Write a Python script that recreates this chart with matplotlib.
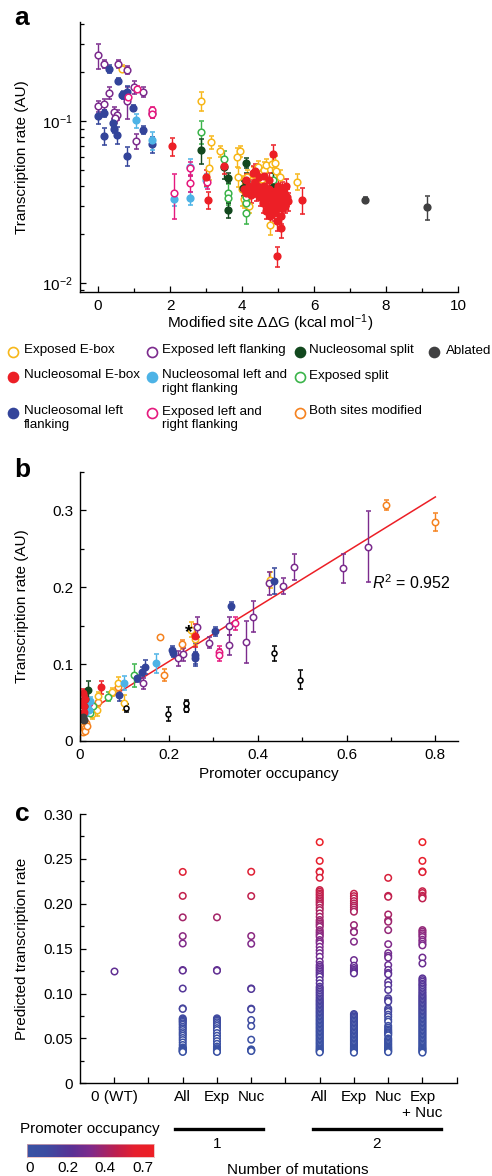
import matplotlib
matplotlib.use("Agg")
import numpy as np
import matplotlib.pyplot as plt
import matplotlib.transforms as mtransforms
from matplotlib.colors import LinearSegmentedColormap, Normalize
from matplotlib.ticker import MultipleLocator, FixedLocator, NullFormatter, LogLocator

plt.rcParams["font.family"] = ["Liberation Sans", "DejaVu Sans"]
plt.rcParams["mathtext.fontset"] = "custom"
plt.rcParams["mathtext.rm"] = "Liberation Sans"
plt.rcParams["mathtext.it"] = "Liberation Sans:italic"
plt.rcParams["mathtext.default"] = "regular"

# ---------------- categories ----------------
cat_names = ["Exposed E-box", "Nucleosomal E-box", "Nucleosomal left\nflanking",
             "Exposed left flanking", "Nucleosomal left and\nright flanking",
             "Exposed left and\nright flanking", "Nucleosomal split", "Exposed split",
             "Both sites modified", "Ablated"]
cat_colors = ["#f7b719", "#ec1f26", "#33449a", "#7b2b8d", "#4db3e6",
              "#e5197e", "#12481e", "#3bb44a", "#f5821f", "#404041"]
cat_open = [True, False, False, True, False, True, False, True, True, False]

# ---------------- panel a: (dG, rate, err) ----------------
exp_ebox_a = [(0.66, 0.211, 0.010), (2.86, 0.133, 0.018), (3.14, 0.0745, 0.007), (3.08, 0.051, 0.008),
              (3.39, 0.065, 0.005), (3.85, 0.060, 0.008), (3.94, 0.065, 0.005), (3.90, 0.0454, 0.006),
              (4.45, 0.052, 0.005), (4.60, 0.050, 0.006), (4.68, 0.0535, 0.005), (4.82, 0.054, 0.006),
              (4.92, 0.055, 0.006), (4.30, 0.047, 0.005), (4.15, 0.045, 0.005), (4.00, 0.038, 0.008),
              (4.05, 0.033, 0.004), (4.78, 0.0229, 0.003), (5.52, 0.0423, 0.005), (4.55, 0.044, 0.005),
              (5.05, 0.045, 0.005), (4.20, 0.030, 0.003), (4.95, 0.049, 0.005), (4.40, 0.043, 0.005)]
nuc_ebox_a = [(2.05, 0.070, 0.009), (3.00, 0.045, 0.005), (3.06, 0.0326, 0.004), (3.50, 0.053, 0.006),
              (4.36, 0.049, 0.005), (4.87, 0.0626, 0.009), (4.96, 0.0146, 0.002), (5.66, 0.0326, 0.006),
              (4.05, 0.038, 0.004), (4.12, 0.036, 0.004), (4.20, 0.040, 0.005), (4.25, 0.035, 0.004),
              (4.30, 0.038, 0.004), (4.35, 0.042, 0.005), (4.40, 0.036, 0.004), (4.45, 0.039, 0.004),
              (4.50, 0.034, 0.004), (4.55, 0.037, 0.004), (4.58, 0.031, 0.004), (4.62, 0.040, 0.005),
              (4.65, 0.033, 0.004), (4.68, 0.028, 0.003), (4.70, 0.036, 0.004), (4.72, 0.030, 0.003),
              (4.75, 0.038, 0.004), (4.78, 0.026, 0.003), (4.80, 0.033, 0.004), (4.82, 0.029, 0.003),
              (4.85, 0.035, 0.004), (4.88, 0.031, 0.003), (4.90, 0.027, 0.003), (4.92, 0.037, 0.004),
              (4.95, 0.033, 0.004), (4.97, 0.024, 0.003), (5.00, 0.029, 0.003), (5.02, 0.035, 0.004),
              (5.05, 0.031, 0.003), (5.07, 0.026, 0.003), (5.10, 0.038, 0.004), (5.12, 0.029, 0.003),
              (5.15, 0.033, 0.004), (5.18, 0.036, 0.004), (5.20, 0.030, 0.003), (5.22, 0.040, 0.004),
              (5.25, 0.034, 0.004), (5.28, 0.032, 0.004), (4.48, 0.045, 0.005), (4.60, 0.046, 0.005),
              (4.30, 0.048, 0.005), (4.10, 0.043, 0.004), (5.00, 0.040, 0.004), (4.76, 0.043, 0.005),
              (5.08, 0.022, 0.003)]
nuc_left_a = [(0.30, 0.211, 0.012), (0.55, 0.178, 0.006), (0.68, 0.145, 0.006), (0.80, 0.152, 0.012),
              (0.00, 0.108, 0.012), (0.18, 0.112, 0.006), (0.18, 0.081, 0.010), (0.43, 0.097, 0.006),
              (0.45, 0.090, 0.006), (0.54, 0.082, 0.010), (0.80, 0.061, 0.008), (0.98, 0.120, 0.005),
              (1.26, 0.088, 0.005), (1.50, 0.072, 0.008), (0.70, 0.145, 0.008)]
exp_left_a = [(0.00, 0.255, 0.045), (0.18, 0.226, 0.012), (0.56, 0.226, 0.012), (0.80, 0.208, 0.012),
              (0.31, 0.150, 0.012), (0.00, 0.124, 0.010), (0.18, 0.128, 0.010), (0.45, 0.114, 0.008),
              (0.53, 0.109, 0.008), (0.80, 0.133, 0.030), (0.99, 0.162, 0.015), (1.26, 0.152, 0.010),
              (1.06, 0.075, 0.008), (1.50, 0.113, 0.008), (0.48, 0.105, 0.008)]
nuc_lr_a = [(1.06, 0.101, 0.010), (1.50, 0.076, 0.010), (2.11, 0.033, 0.003), (2.56, 0.0335, 0.003),
            (2.56, 0.052, 0.006), (3.00, 0.043, 0.004)]
exp_lr_a = [(1.08, 0.158, 0.006), (0.83, 0.142, 0.012), (1.50, 0.117, 0.006), (2.11, 0.036, 0.011),
            (2.56, 0.051, 0.005), (2.56, 0.0413, 0.005), (3.02, 0.042, 0.004), (1.50, 0.111, 0.006)]
nuc_split_a = [(2.86, 0.066, 0.012), (3.50, 0.052, 0.008), (3.62, 0.0445, 0.003), (3.62, 0.0283, 0.003),
               (4.12, 0.055, 0.004), (4.12, 0.0427, 0.005), (4.04, 0.0385, 0.004), (4.87, 0.039, 0.009)]
exp_split_a = [(2.86, 0.086, 0.014), (3.50, 0.058, 0.007), (3.62, 0.036, 0.005), (3.62, 0.0335, 0.003),
               (4.10, 0.031, 0.004), (4.10, 0.027, 0.004), (4.87, 0.043, 0.005), (4.12, 0.034, 0.004)]
both_a = []
ablated_a = [(7.42, 0.0328, 0.001), (9.15, 0.0294, 0.005)]

# ---------------- panel b: (occupancy, rate, err) ----------------
exp_ebox_b = [(0.4267, 0.2094, 0.010), (0.26, 0.133, 0.008), (0.099, 0.050, 0.010), (0.086, 0.075, 0.008),
              (0.041, 0.058, 0.006), (0.0375, 0.040, 0.008), (0.071, 0.064, 0.005), (0.028, 0.035, 0.006),
              (0.25, 0.145, 0.010)]
nuc_ebox_b = [(0.26, 0.137, 0.015), (0.0466, 0.0698, 0.008), (0.0075, 0.062, 0.006), (0.005, 0.050, 0.005),
              (0.010, 0.045, 0.004), (0.008, 0.038, 0.004), (0.012, 0.055, 0.005)]
nuc_left_b = [(0.437, 0.208, 0.017), (0.34, 0.176, 0.005), (0.304, 0.143, 0.006), (0.207, 0.118, 0.005),
              (0.21, 0.114, 0.005), (0.258, 0.112, 0.015), (0.258, 0.108, 0.008), (0.146, 0.0967, 0.009),
              (0.139, 0.090, 0.006), (0.129, 0.0815, 0.005), (0.0886, 0.060, 0.008)]
exp_left_b = [(0.648, 0.2527, 0.046), (0.593, 0.225, 0.019), (0.482, 0.2267, 0.017), (0.457, 0.2016, 0.010),
              (0.425, 0.205, 0.015), (0.389, 0.1617, 0.020), (0.373, 0.129, 0.027), (0.3365, 0.1496, 0.012),
              (0.3365, 0.1249, 0.013), (0.2915, 0.128, 0.007), (0.2314, 0.1127, 0.008), (0.2216, 0.1075, 0.010),
              (0.263, 0.1487, 0.013), (0.141, 0.075, 0.007)]
nuc_lr_b = [(0.17, 0.101, 0.012), (0.10, 0.075, 0.009), (0.0225, 0.0525, 0.005), (0.0165, 0.045, 0.004),
            (0.011, 0.036, 0.004), (0.020, 0.040, 0.004)]
exp_lr_b = [(0.348, 0.153, 0.008), (0.312, 0.116, 0.008), (0.312, 0.112, 0.008), (0.020, 0.050, 0.004)]
nuc_split_b = [(0.0188, 0.066, 0.012), (0.011, 0.055, 0.005), (0.008, 0.045, 0.004), (0.006, 0.035, 0.004),
               (0.004, 0.028, 0.003)]
exp_split_b = [(0.1217, 0.0858, 0.015), (0.0623, 0.0577, 0.006), (0.0225, 0.036, 0.004), (0.030, 0.045, 0.004)]
both_b = [(0.689, 0.307, 0.007), (0.80, 0.285, 0.012), (0.229, 0.126, 0.006), (0.18, 0.135, 0.002),
          (0.19, 0.086, 0.008), (0.086, 0.070, 0.006), (0.040, 0.051, 0.006), (0.008, 0.015, 0.002),
          (0.010, 0.020, 0.002), (0.012, 0.017, 0.002), (0.006, 0.012, 0.001), (0.014, 0.024, 0.002),
          (0.009, 0.027, 0.002), (0.011, 0.013, 0.002), (0.016, 0.019, 0.002)]
ablated_b = [(0.0075, 0.0316, 0.003), (0.0095, 0.027, 0.003)]
other_b = [(0.4357, 0.114, 0.010), (0.496, 0.080, 0.012), (0.238, 0.050, 0.004), (0.238, 0.042, 0.004),
           (0.197, 0.0347, 0.009), (0.1037, 0.0425, 0.005)]
fit_slope, fit_intercept = 0.357, 0.032
fit_range = (0.0225, 0.80)
r2_value = 0.952

# ---------------- panel c: predicted rates per group ----------------
c_positions = [1, 3, 4, 5, 7, 8, 9, 10]
c_labels = ["0 (WT)", "All", "Exp", "Nuc", "All", "Exp", "Nuc", "Exp\n+ Nuc"]
wt_c = [0.1247]
one_all_c = [0.2355, 0.2088, 0.1849, 0.1640, 0.1558, 0.1262, 0.1256, 0.1056, 0.0835, 0.0829, 0.0724,
             0.0712, 0.0698, 0.0685, 0.0668, 0.0652, 0.0630, 0.0612, 0.0594, 0.0570, 0.0550, 0.0530,
             0.0505, 0.0482, 0.0455, 0.0427, 0.0400, 0.0392, 0.0384, 0.0376, 0.0368, 0.0360, 0.0355, 0.0350]
one_exp_c = [0.1849, 0.1262, 0.1255, 0.0724, 0.0712, 0.0698, 0.0680, 0.0660, 0.0640, 0.0615, 0.0594,
             0.0560, 0.0530, 0.0500, 0.0470, 0.0440, 0.0410, 0.0392, 0.0380, 0.0370, 0.0362, 0.0355, 0.0350]
one_nuc_c = [0.2357, 0.2086, 0.1641, 0.1555, 0.1057, 0.1051, 0.0832, 0.0825, 0.0705, 0.0638, 0.0486,
             0.0378, 0.0371, 0.0365, 0.0360]
two_all_c = [0.2687, 0.2478, 0.2360, 0.2353, 0.2290, 0.2153, 0.2135, 0.2115, 0.2098, 0.2078, 0.2059,
             0.2040, 0.2022, 0.2003, 0.1985, 0.1955, 0.1930, 0.1893, 0.1856, 0.1819, 0.1800, 0.1781,
             0.1762, 0.1744, 0.1707, 0.1688, 0.1670, 0.1651, 0.1633, 0.1596, 0.1577, 0.1559, 0.1522,
             0.1484, 0.1450, 0.1410, 0.1356, 0.1320, 0.1300, 0.1282, 0.1263, 0.1245, 0.1226, 0.1207,
             0.1188, 0.1151, 0.1114, 0.1077, 0.1058, 0.1040, 0.1021, 0.1003, 0.0985, 0.0966, 0.0947,
             0.0930, 0.0915, 0.0900, 0.0885, 0.0870, 0.0855, 0.0840, 0.0825, 0.0810, 0.0795, 0.0780,
             0.0765, 0.0750, 0.0735, 0.0720, 0.0705, 0.0690, 0.0675, 0.0660, 0.0645, 0.0630, 0.0615,
             0.0600, 0.0585, 0.0570, 0.0555, 0.0540, 0.0525, 0.0510, 0.0495, 0.0480, 0.0465, 0.0450,
             0.0435, 0.0420, 0.0405, 0.0390, 0.0378, 0.0366, 0.0355, 0.0345]
two_exp_c = [0.2112, 0.2085, 0.2060, 0.2030, 0.2004, 0.1980, 0.1960, 0.1935, 0.1912, 0.1763, 0.1692,
             0.1685, 0.1578, 0.1373, 0.1310, 0.1285, 0.1265, 0.1250, 0.1238, 0.1225, 0.0772, 0.0760,
             0.0745, 0.0730, 0.0715, 0.0700, 0.0685, 0.0670, 0.0655, 0.0640, 0.0625, 0.0610, 0.0595,
             0.0580, 0.0565, 0.0550, 0.0535, 0.0520, 0.0505, 0.0490, 0.0475, 0.0460, 0.0445, 0.0430,
             0.0415, 0.0400, 0.0388, 0.0376, 0.0364, 0.0352, 0.0342]
two_nuc_c = [0.2289, 0.2088, 0.2078, 0.1881, 0.1815, 0.1800, 0.1707, 0.1550, 0.1450, 0.1420, 0.1400,
             0.1318, 0.1263, 0.1230, 0.1215, 0.1131, 0.1094, 0.1040, 0.0947, 0.0925, 0.0910, 0.0834,
             0.0815, 0.0797, 0.0765, 0.0742, 0.0710, 0.0687, 0.0640, 0.0620, 0.0600, 0.0585, 0.0570,
             0.0560, 0.0548, 0.0535, 0.0500, 0.0485, 0.0470, 0.0455, 0.0440, 0.0425, 0.0410, 0.0398,
             0.0386, 0.0375, 0.0365, 0.0355, 0.0348]
two_expnuc_c = [0.2687, 0.2478, 0.2360, 0.2353, 0.2140, 0.2120, 0.2090, 0.2075, 0.2060, 0.1707, 0.1690,
                0.1670, 0.1650, 0.1630, 0.1600, 0.1580, 0.1555, 0.1537, 0.1401, 0.1335, 0.1169, 0.1150,
                0.1132, 0.1110, 0.1095, 0.1077, 0.1058, 0.1040, 0.1020, 0.1003, 0.0985, 0.0970, 0.0955,
                0.0940, 0.0925, 0.0910, 0.0895, 0.0880, 0.0865, 0.0850, 0.0835, 0.0820, 0.0805, 0.0790,
                0.0775, 0.0760, 0.0745, 0.0730, 0.0715, 0.0700, 0.0685, 0.0670, 0.0655, 0.0640, 0.0625,
                0.0610, 0.0595, 0.0580, 0.0565, 0.0550, 0.0535, 0.0520, 0.0505, 0.0490, 0.0475, 0.0460,
                0.0445, 0.0430, 0.0415, 0.0400, 0.0388, 0.0376, 0.0364, 0.0352, 0.0342]
c_groups = [wt_c, one_all_c, one_exp_c, one_nuc_c, two_all_c, two_exp_c, two_nuc_c, two_expnuc_c]
cbar_labels = ["0", "0.2", "0.4", "0.7"]

occ_cmap = LinearSegmentedColormap.from_list(
    "occ", [(0.0, "#3953a4"), (0.15, "#3d4ca1"), (0.35, "#5b3195"), (0.5, "#7f2a8b"),
            (0.7, "#bd2050"), (0.85, "#e61f2e"), (1.0, "#ee2025")])

# ---------------- figure ----------------
fig = plt.figure(figsize=(4.92, 11.76), dpi=100)
ax_a = fig.add_axes([0.1626, 0.7517, 0.7683, 0.2296])
ax_b = fig.add_axes([0.1626, 0.3699, 0.7683, 0.2287])
ax_c = fig.add_axes([0.1626, 0.0788, 0.7656, 0.2290])


def style_axes(ax):
    for s in ("top", "right"):
        ax.spines[s].set_visible(False)
    for s in ("left", "bottom"):
        ax.spines[s].set_linewidth(1.0)
    ax.tick_params(which="both", direction="in", width=0.9, labelsize=11, pad=5)
    ax.tick_params(which="major", length=4.5)
    ax.tick_params(which="minor", length=3)


def draw_series(ax, pts, color, is_open, ms=4.8):
    if not pts:
        return
    x, y, e = zip(*pts)
    ax.errorbar(x, y, yerr=e, fmt="o", color=color, ecolor=color,
                mfc="white" if is_open else color, mec=color, ms=ms, mew=1.1,
                elinewidth=1.0, capsize=1.8, capthick=1.0)


# panel a
a_sets = [exp_ebox_a, nuc_ebox_a, nuc_left_a, exp_left_a, nuc_lr_a, exp_lr_a,
          nuc_split_a, exp_split_a, both_a, ablated_a]
order = [0, 7, 6, 3, 2, 4, 5, 1, 8, 9]
for i in order:
    draw_series(ax_a, a_sets[i], cat_colors[i], cat_open[i])
ax_a.set_yscale("log")
ax_a.set_xlim(-0.5, 10)
ax_a.set_ylim(0.0088, 0.41)
style_axes(ax_a)
ax_a.xaxis.set_major_locator(MultipleLocator(2))
ax_a.xaxis.set_minor_locator(MultipleLocator(1))
ax_a.yaxis.set_major_locator(LogLocator(base=10, numticks=5))
ax_a.yaxis.set_minor_locator(LogLocator(base=10, subs=np.arange(2, 10), numticks=20))
ax_a.yaxis.set_minor_formatter(NullFormatter())
ax_a.set_xlabel("Modified site \u0394\u0394G (kcal mol$^{-1}$)", fontsize=11)
ax_a.set_ylabel("Transcription rate (AU)", fontsize=11)
ax_a.xaxis.label.set_va("center")
ax_a.yaxis.label.set_va("center")
ax_a.xaxis.set_label_coords(0.503, -0.115)
ax_a.yaxis.set_label_coords(-0.153, 0.5)

# panel b
b_sets = [exp_ebox_b, nuc_ebox_b, nuc_left_b, exp_left_b, nuc_lr_b, exp_lr_b,
          nuc_split_b, exp_split_b, both_b, ablated_b]
fx = np.array(fit_range)
ax_b.plot(fx, fit_intercept + fit_slope * fx, color="#ec1f26", lw=1.1, zorder=1)
for i in [8, 0, 7, 3, 5, 2, 4, 6, 1, 9]:
    draw_series(ax_b, b_sets[i], cat_colors[i], cat_open[i], ms=4.6)
draw_series(ax_b, other_b, "black", True, ms=3.6)
ax_b.text(0.2456, 0.141, "*", fontsize=14, fontweight="bold", ha="center", va="center")
ax_b.text(0.657, 0.2055, "$\\mathit{R}^{2}$ = %.3f" % r2_value, fontsize=11.5, ha="left", va="center")
ax_b.set_xlim(0, 0.851)
ax_b.set_ylim(0, 0.35)
style_axes(ax_b)
ax_b.xaxis.set_major_locator(MultipleLocator(0.2))
ax_b.xaxis.set_minor_locator(MultipleLocator(0.1))
ax_b.yaxis.set_major_locator(MultipleLocator(0.1))
ax_b.yaxis.set_minor_locator(MultipleLocator(0.05))
ax_b.set_xticks([0, 0.2, 0.4, 0.6, 0.8], ["0", "0.2", "0.4", "0.6", "0.8"])
ax_b.set_yticks([0, 0.1, 0.2, 0.3], ["0", "0.1", "0.2", "0.3"])
ax_b.set_xlabel("Promoter occupancy", fontsize=11)
ax_b.set_ylabel("Transcription rate (AU)", fontsize=11)
ax_b.xaxis.label.set_va("center")
ax_b.yaxis.label.set_va("center")
ax_b.xaxis.set_label_coords(0.5, -0.123)
ax_b.yaxis.set_label_coords(-0.153, 0.5)

# panel c
norm = Normalize(vmin=0.03, vmax=0.28)
for pos, vals in zip(c_positions, c_groups):
    ax_c.scatter([pos] * len(vals), vals, s=22, facecolors="white",
                 edgecolors=occ_cmap(norm(np.array(vals))), linewidths=1.1, zorder=3)
ax_c.set_xlim(0, 11)
ax_c.set_ylim(0, 0.30)
style_axes(ax_c)
ax_c.set_xticks(c_positions, c_labels)
ax_c.xaxis.set_minor_locator(FixedLocator([2, 6, 11]))
ax_c.tick_params(axis="x", which="minor", length=4.5)
ax_c.set_yticks(np.arange(0, 0.301, 0.05), ["0", "0.05", "0.10", "0.15", "0.20", "0.25", "0.30"])
ax_c.yaxis.set_minor_locator(MultipleLocator(0.025))
ax_c.set_ylabel("Predicted transcription rate", fontsize=11)
ax_c.yaxis.label.set_va("center")
ax_c.yaxis.set_label_coords(-0.154, 0.5)

trans = mtransforms.blended_transform_factory(ax_c.transData, ax_c.transAxes)
ax_c.plot([2.77, 5.34], [-0.169, -0.169], color="black", lw=2.4, transform=trans, clip_on=False)
ax_c.plot([6.79, 10.54], [-0.169, -0.169], color="black", lw=2.4, transform=trans, clip_on=False)
ax_c.text(4.0, -0.225, "1", transform=trans, ha="center", va="center", fontsize=11)
ax_c.text(8.66, -0.225, "2", transform=trans, ha="center", va="center", fontsize=11)
ax_c.text(6.37, -0.323, "Number of mutations", transform=trans, ha="center", va="center", fontsize=11)

# colour bar for occupancy
cax = fig.add_axes([27 / 492, 1 - 1157 / 1176, 127 / 492, 13 / 1176])
cax.imshow(np.linspace(0, 1, 256)[None, :], aspect="auto", cmap=occ_cmap, extent=[0, 1, 0, 1])
cax.set_yticks([])
cax.set_xticks([0.02, 0.32, 0.61, 0.91], cbar_labels)
cax.tick_params(axis="x", length=0, labelsize=11, pad=3)
for s in cax.spines.values():
    s.set_color("#e8b0b0")
    s.set_linewidth(0.5)

# overlay for legend and panel letters (pixel coordinates)
ov = fig.add_axes([0, 0, 1, 1])
ov.set_xlim(0, 492)
ov.set_ylim(1176, 0)
ov.axis("off")
ov.patch.set_alpha(0)

for letter, (lx, ly) in zip("abc", [(22, 18), (22, 470), (22, 814)]):
    ov.text(lx, ly, letter, fontsize=19, fontweight="bold", ha="center", va="center")

leg_grid = [(0, 0), (1, 0), (2, 0), (0, 1), (1, 1), (2, 1), (0, 2), (1, 2), (2, 2), (0, 3)]
row_y = [352, 377, 413]
col_mx = [13, 152, 300, 434]
col_tx = [24, 162, 309, 446]
for i, (r, c) in enumerate(leg_grid):
    ov.plot([col_mx[c]], [row_y[r]], "o", ms=7.2, mew=1.2, mec=cat_colors[i],
            mfc="white" if cat_open[i] else cat_colors[i])
    ov.text(col_tx[c], row_y[r] - 7.5, cat_names[i], fontsize=9.6, ha="left", va="top",
            linespacing=1.15)

ov.text(90, 1129, "Promoter occupancy", fontsize=11, ha="center", va="center")

fig.savefig("out.png", dpi=100)
